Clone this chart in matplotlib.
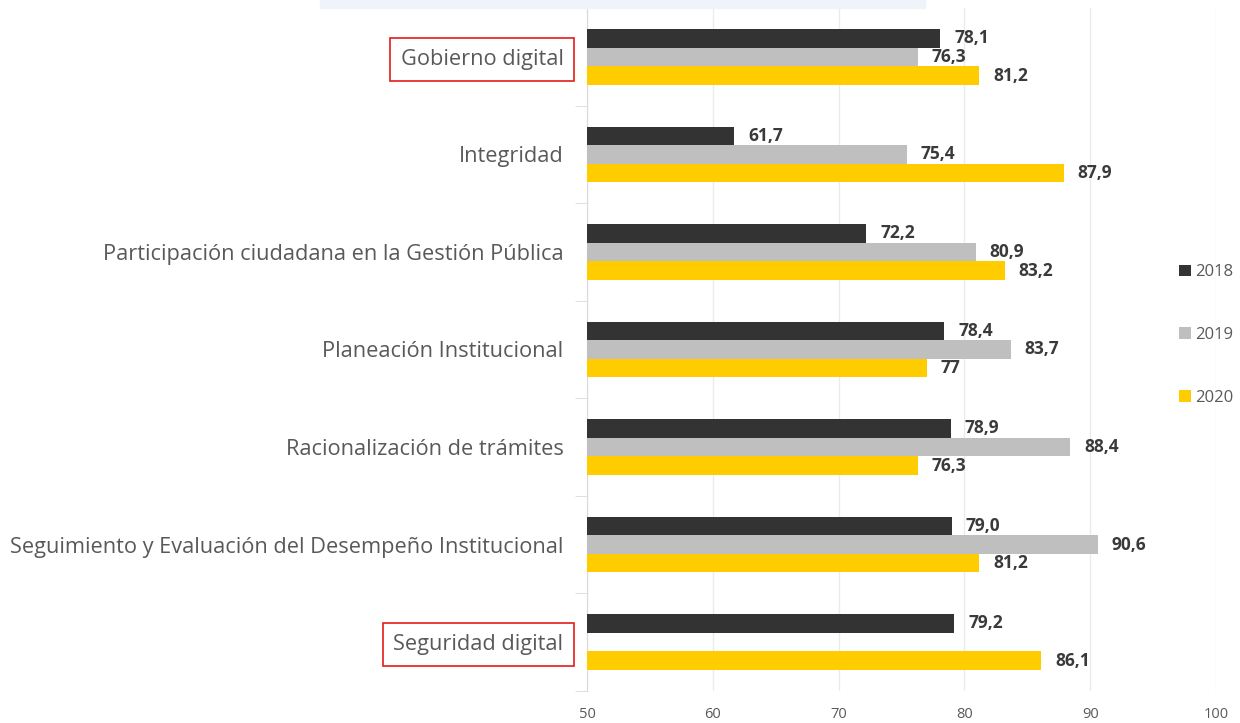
import numpy as np
import matplotlib
matplotlib.use("Agg")
import matplotlib.pyplot as plt
from matplotlib.patches import Rectangle

plt.rcParams['font.family'] = ['Open Sans', 'DejaVu Sans']

# data
categories = [
    "Gobierno digital",
    "Integridad",
    "Participación ciudadana en la Gestión Pública",
    "Planeación Institucional",
    "Racionalización de trámites",
    "Seguimiento y Evaluación del Desempeño Institucional",
    "Seguridad digital",
]
years = ["2018", "2019", "2020"]
v2018 = [78.1, 61.7, 72.2, 78.4, 78.9, 79.0, 79.2]
v2019 = [76.3, 75.4, 80.9, 83.7, 88.4, 90.6, None]
v2020 = [81.2, 87.9, 83.2, 77.0, 76.3, 81.2, 86.1]
lab2018 = ["78,1", "61,7", "72,2", "78,4", "78,9", "79,0", "79,2"]
lab2019 = ["76,3", "75,4", "80,9", "83,7", "88,4", "90,6", ""]
lab2020 = ["81,2", "87,9", "83,2", "77", "76,3", "81,2", "86,1"]
boxed = ["Gobierno digital", "Seguridad digital"]

colors = ["#333333", "#bfbfbf", "#ffcc00"]

fig = plt.figure(figsize=(12.4, 7.23), dpi=100)
ax = fig.add_axes([0.4734, 0.0446, 0.5072, 0.944])

# pale banner at the top (clipped title)
fig.patches.append(Rectangle((320 / 1240, 1 - 8 / 723), 605 / 1240, 8 / 723,
                             transform=fig.transFigure, color="#eef4fa", zorder=0))

y = np.arange(len(categories))
h = 0.19
series = [(v2018, lab2018, -h), (v2019, lab2019, 0), (v2020, lab2020, h)]
for (vals, labs, off), col, yr in zip(series, colors, years):
    for i, (v, lab) in enumerate(zip(vals, labs)):
        if v is None:
            continue
        ax.barh(y[i] + off, v - 50, left=50, height=h, color=col, zorder=3,
                label=yr if i == 0 else None)
        ax.annotate(lab, (v, y[i] + off), xytext=(10, 0), textcoords="offset points",
                    va="center", ha="left", fontsize=12.5, fontweight="bold",
                    color="#3a3a3a")

ax.set_xlim(50, 100)
ax.set_ylim(len(categories) - 0.5, -0.5)
ax.set_xticks([50, 60, 70, 80, 90, 100])
ax.tick_params(axis="x", length=0, pad=12, labelsize=10.5, labelcolor="#595959")
ax.set_yticks(y)
ax.set_yticklabels(categories)
ax.tick_params(axis="y", which="major", length=0, pad=17, labelsize=15.65, labelcolor="#595959")
ax.set_yticks(np.arange(len(categories) + 1) - 0.5, minor=True)
ax.tick_params(axis="y", which="minor", length=9, color="#d9d9d9")

for lab in ax.get_yticklabels():
    if lab.get_text() in boxed:
        lab.set_bbox(dict(facecolor="none", edgecolor="#e31b1b", linewidth=1.2,
                          boxstyle="square,pad=0.5"))

ax.grid(axis="x", color="#ebebeb", linewidth=1, zorder=0)
for s in ["top", "right", "bottom"]:
    ax.spines[s].set_visible(False)
ax.spines["left"].set_color("#d9d9d9")

fig.legend(loc="center left", bbox_to_anchor=(1179 / 1240, 1 - 335 / 723),
           frameon=False, borderpad=0, borderaxespad=0,
           handlelength=0.7, handleheight=0.7, handletextpad=0.25,
           labelspacing=2.8, fontsize=12, labelcolor="#595959")

fig.savefig("out.png", dpi=100)
